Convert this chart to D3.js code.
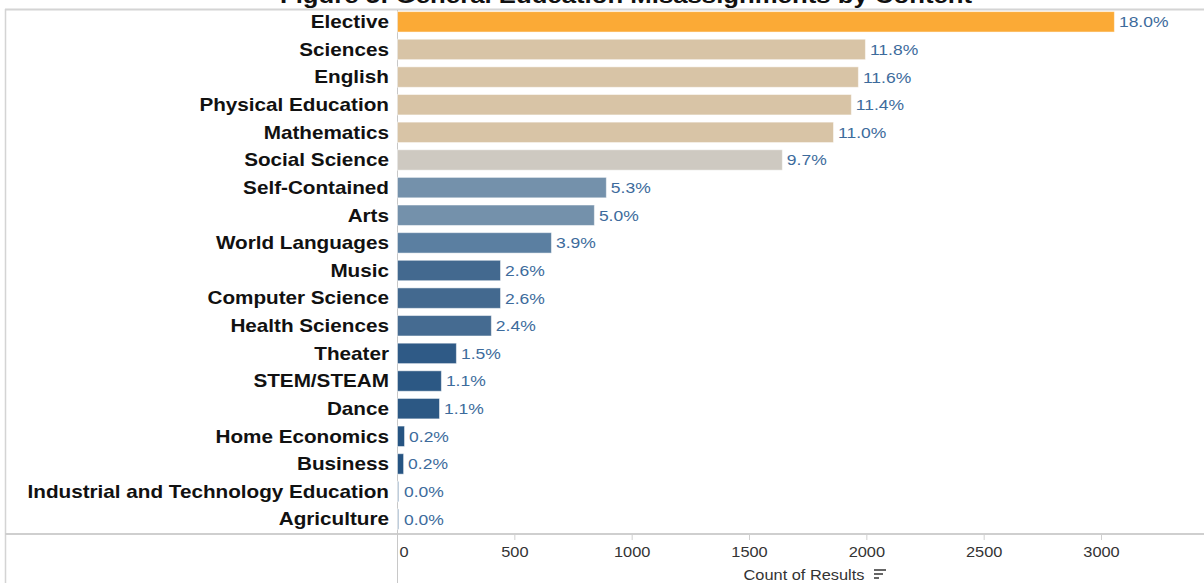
<!DOCTYPE html>
<html>
<head>
<meta charset="utf-8">
<script src="https://cdn.jsdelivr.net/npm/d3@7"></script>
<style>
  body { margin: 0; background: #fff; }
  svg { display: block; font-family: 'Liberation Sans', Arial, sans-serif; }
</style>
</head>
<body>
<div id="chart"></div>
<script>
var width = 1204;
var height = 583;

var categories = ['Elective', 'Sciences', 'English', 'Physical Education', 'Mathematics',
  'Social Science', 'Self-Contained', 'Arts', 'World Languages', 'Music',
  'Computer Science', 'Health Sciences', 'Theater', 'STEM/STEAM', 'Dance',
  'Home Economics', 'Business', 'Industrial and Technology Education', 'Agriculture'];

var counts = [3055, 1994, 1964, 1934, 1858, 1640, 890, 839, 656, 439, 439, 400,
  251, 187, 179, 30, 26, 4, 3];

var percents = ['18.0%', '11.8%', '11.6%', '11.4%', '11.0%', '9.7%', '5.3%', '5.0%',
  '3.9%', '2.6%', '2.6%', '2.4%', '1.5%', '1.1%', '1.1%', '0.2%', '0.2%', '0.0%', '0.0%'];

var colors = ['#fbaa36', '#d8c4a6', '#d8c4a6', '#d8c4a6', '#d8c4a6', '#cec9c1',
  '#7491ab', '#7491ab', '#5b7fa1', '#43698f', '#43698f', '#456b91', '#2f5a86',
  '#2c5884', '#2c5884', '#265482', '#265482', '#a9bdd1', '#a9bdd1'];

var xTicks = [0, 500, 1000, 1500, 2000, 2500, 3000];

var title = 'Figure 5: General Education Misassignments by Content';

// the source picture is stretched sideways, so text gets a horizontal scale
var stretch = 1.15;

var svg = d3.select('#chart')
  .append('svg')
    .attr('width', width)
    .attr('height', height);

var x = d3.scaleLinear()
  .domain([0, 3000])
  .range([397, 1101]);

var y = d3.scaleBand()
  .domain(categories)
  .range([8, 533])
  .paddingInner(0.26)
  .paddingOuter(0.13);

function place(px, py, s) {
  return 'translate(' + px + ',' + py + ') scale(' + (s || stretch) + ',1)';
}

// frame lines
svg.append('line')
  .attr('x1', 5).attr('x2', width).attr('y1', 9.5).attr('y2', 9.5)
  .attr('stroke', '#d4d4d4').attr('stroke-width', 2);
svg.append('line')
  .attr('x1', 5.5).attr('x2', 5.5).attr('y1', 9).attr('y2', height)
  .attr('stroke', '#d4d4d4').attr('stroke-width', 1.5);
svg.append('line')
  .attr('x1', 5).attr('x2', width).attr('y1', 534).attr('y2', 534)
  .attr('stroke', '#cfcfcf').attr('stroke-width', 2);
svg.append('line')
  .attr('x1', 397.5).attr('x2', 397.5).attr('y1', 10).attr('y2', height)
  .attr('stroke', '#c8c8c8').attr('stroke-width', 1);

// title (clipped at top in the source)
svg.append('text')
  .attr('transform', place(626, 3, 1.17))
  .attr('text-anchor', 'middle')
  .attr('font-size', 22)
  .attr('font-weight', 'bold')
  .attr('fill', '#111')
  .text(title);

// bars
var rows = categories.map(function (c, i) {
  return { key: c, value: counts[i], pct: percents[i], color: colors[i] };
});

svg.selectAll('.bar')
    .data(rows)
    .enter()
  .append('rect')
    .attr('class', 'bar')
    .attr('x', x(0) + 0.5)
    .attr('y', function (d) { return y(d.key); })
    .attr('width', function (d) { return Math.max(1.5, x(d.value) - x(0)); })
    .attr('height', y.bandwidth())
    .attr('fill', function (d) { return d.color; })
    .attr('stroke', '#ffffff')
    .attr('stroke-opacity', 0.5)
    .attr('stroke-width', 1);

// category labels
svg.selectAll('.cat')
    .data(rows)
    .enter()
  .append('text')
    .attr('class', 'cat')
    .attr('transform', function (d) { return place(389, y(d.key) + y.bandwidth() / 2); })
    .attr('dy', '0.35em')
    .attr('text-anchor', 'end')
    .attr('font-size', 18)
    .attr('font-weight', 'bold')
    .attr('fill', '#111')
    .text(function (d) { return d.key; });

// value labels
svg.selectAll('.val')
    .data(rows)
    .enter()
  .append('text')
    .attr('class', 'val')
    .attr('transform', function (d) {
      return place(Math.max(x(0) + 2, x(d.value)) + 5, y(d.key) + y.bandwidth() / 2, 1.13);
    })
    .attr('dy', '0.35em')
    .attr('font-size', 15.5)
    .attr('fill', '#3d6b9c')
    .text(function (d) { return d.pct; });

// x axis
var axis = svg.append('g')
  .attr('transform', 'translate(0,535)')
  .call(d3.axisBottom(x).tickValues(xTicks).tickSize(5).tickFormat(d3.format('d')));

axis.select('.domain').remove();
axis.selectAll('.tick line').attr('stroke', '#cfcfcf');
axis.selectAll('.tick text')
  .attr('y', null)
  .attr('dy', null)
  .attr('transform', function (d) { return place(d === 0 ? 2 : 0, 22, 1.17); })
  .attr('font-size', 14)
  .attr('font-family', "'Liberation Sans', Arial, sans-serif")
  .attr('fill', '#333')
  .attr('text-anchor', function (d) { return d === 0 ? 'start' : 'middle'; });
axis.selectAll('.tick').filter(function (d) { return d === 0; }).select('line').remove();

svg.append('text')
  .attr('transform', place(804, 580, 1.17))
  .attr('text-anchor', 'middle')
  .attr('font-size', 14)
  .attr('fill', '#333')
  .text('Count of Results');

// sort icon
var icon = svg.append('g').attr('transform', 'translate(874,569)');
[12, 9, 5].forEach(function (w, i) {
  icon.append('rect')
    .attr('x', 0).attr('y', i * 4)
    .attr('width', w).attr('height', 2)
    .attr('fill', '#666');
});
</script>
</body>
</html>
